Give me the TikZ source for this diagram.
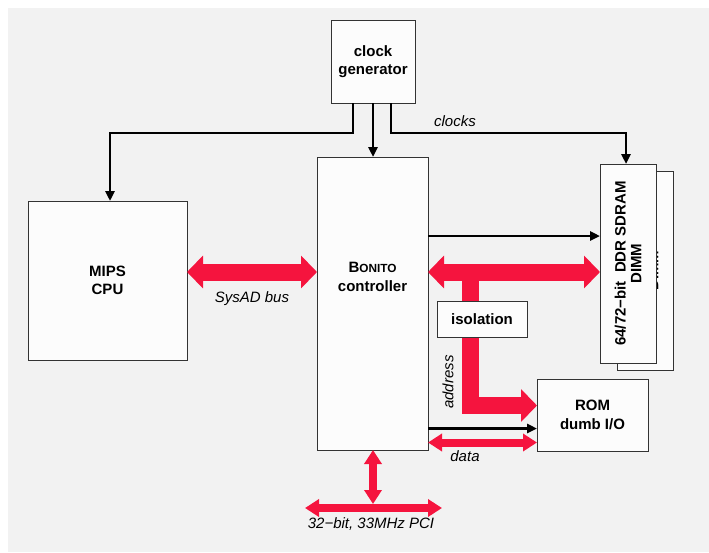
\documentclass[tikz,border=0pt]{standalone}
\usepackage{fontspec}
\setmainfont{Liberation Sans}
\usetikzlibrary{arrows.meta}
\definecolor{bg}{HTML}{F2F2F2}
\definecolor{boxfill}{HTML}{FCFCFC}
\definecolor{busred}{RGB}{245,20,62}
\definecolor{edge}{HTML}{333333}
\tikzset{
  box/.style={draw=edge, line width=1pt, fill=boxfill, inner sep=0pt, outer sep=0pt,
    align=center, font=\fontsize{15}{18.5}\selectfont\bfseries},
  btext/.style={inner sep=0pt, align=center, font=\fontsize{15}{18.5}\selectfont\bfseries},
  lbl/.style={inner sep=0pt, font=\fontsize{15}{18}\selectfont\itshape},
  clk/.style={line width=2.5pt, black, -{Triangle[length=10pt,width=9pt]}},
  fatbus/.style={busred, line width=17pt, line join=miter,
    {Triangle[width=32pt,length=16pt]}-{Triangle[width=32pt,length=16pt]}},
  fatone/.style={busred, line width=17pt, line join=miter, -{Triangle[width=32pt,length=16pt]}},
  thinbus/.style={busred, line width=8pt,
    {Triangle[width=17pt,length=14pt]}-{Triangle[width=17pt,length=14pt]}}
}
\begin{document}
\begin{tikzpicture}[x=1pt,y=-1pt]
\useasboundingbox (0,0) rectangle (709,552);
\fill[bg] (8,8) rectangle (709,552);

% boxes
\node[box, minimum width=84pt, minimum height=83pt] (clk) at (373,61.5) {clock\\generator};
\node[box, minimum width=111pt, minimum height=293pt] (bon) at (372.5,303.5) {};
\node[btext] (bontxt) at (372.5,277)
  {{\fontsize{15}{18.5}\selectfont B}{\fontsize{11.8}{18.5}\selectfont ONITO}\\controller};
\node[box, minimum width=159pt, minimum height=159pt] (cpu) at (107.5,280.5) {MIPS\\CPU};
\node[box, minimum width=56pt, minimum height=199pt] (dimmb) at (645,270.5)
  {\rotatebox{90}{\shortstack{64/72−bit\ \ DDR SDRAM\\[2pt]DIMM}}};
\node[box, minimum width=56pt, minimum height=199pt] (dimm) at (628,263.5)
  {\rotatebox{90}{\shortstack{64/72−bit\ \ DDR SDRAM\\[2pt]DIMM}}};
\node[box, minimum width=111pt, minimum height=72pt] (rom) at (592.5,415) {ROM\\dumb I/O};

% clock lines
\draw[clk] (353,103) |- (110,133) -- (cpu.north -| 110,0);
\draw[clk] (clk.south) -- (clk.south |- bon.north);
\draw[clk] (391,103) |- (626,133) -- (dimm.north -| 626,0);
\node[lbl] (lclk) at (455,121) {clocks};

% black control arrows
\draw[clk] (bon.east |- 0,236) -- (dimm.west |- 0,236);
\draw[clk] (bon.east |- 0,428.5) -- (rom.west |- 0,428.5);

% red buses
\draw[fatbus] (cpu.east |- 0,272) -- (bon.west |- 0,272);
\node[lbl] (lsys) at (252,299) {SysAD bus};
\draw[fatbus] (bon.east |- 0,272) -- (dimm.west |- 0,272);
\draw[fatone] (470,272) |- (rom.west |- 0,405.5);
\node[box, minimum width=90pt, minimum height=36pt] (iso) at (482,319) {isolation};
\node[lbl, rotate=90] (laddr) at (448,382) {address};
\draw[thinbus] (bon.east |- 0,442.5) -- (rom.west |- 0,442.5);
\node[lbl] (ldata) at (465,456) {data};

\coordinate (pcimid) at (373,504);
\draw[thinbus] (bon.south -| 373,0) -- (pcimid);
\draw[thinbus] (305,508) -- (442,508);
\node[lbl] (lpci) at (371,524.5) {32−bit, 33MHz PCI};
\end{tikzpicture}
\end{document}
